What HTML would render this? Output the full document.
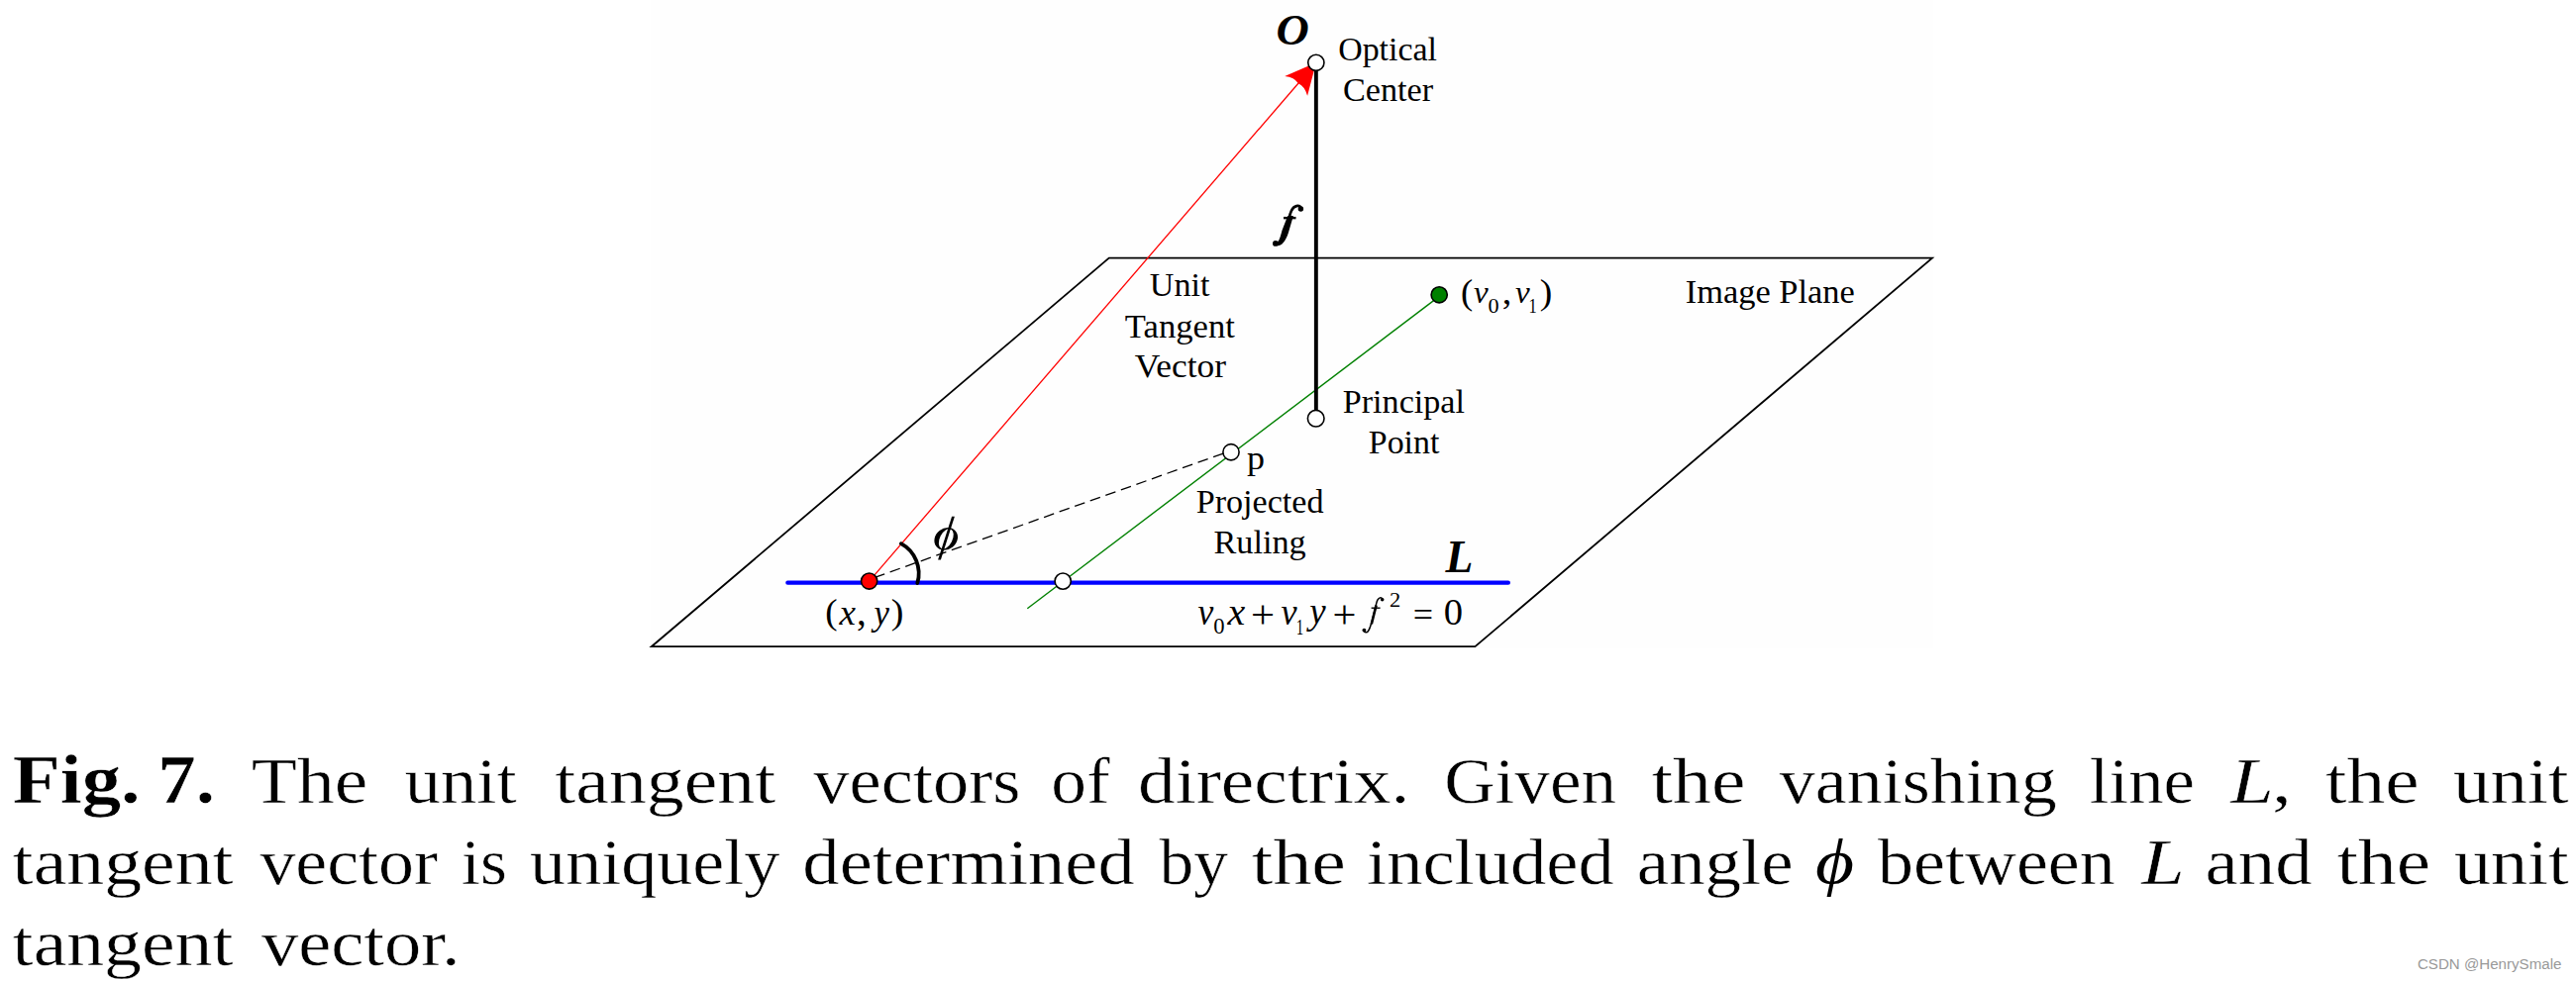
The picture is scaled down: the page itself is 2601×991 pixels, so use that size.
<!DOCTYPE html>
<html><head><meta charset="utf-8"><style>
html,body{margin:0;padding:0;background:#fff;}
body{width:2601px;height:991px;overflow:hidden;}
svg{display:block;}
text{white-space:pre;}
</style></head><body>
<svg width="2601" height="991" viewBox="0 0 2601 991">
<rect width="2601" height="991" fill="#fff"/>
<rect x="657" y="0" width="1295" height="655" fill="#fefefe"/>
<polygon points="1119.8,260.6 1951,260.6 1489.4,653.2 657.8,653.2" fill="none" stroke="#000" stroke-width="1.8" stroke-linejoin="miter"/>
<line x1="795.3" y1="588.7" x2="1522.9" y2="588.7" stroke="#0000ff" stroke-width="4.2" stroke-linecap="round"/>
<line x1="1037.3" y1="614.7" x2="1453.2" y2="299.4" stroke="#008000" stroke-width="1.4"/>
<line x1="883.11" y1="583.36" x2="1243.0" y2="455.3" stroke="#000" stroke-width="1.3" stroke-dasharray="10.7 5.8"/>
<line x1="877.65" y1="587.05" x2="1311.28" y2="83.76" stroke="#ff0000" stroke-width="1.3"/>
<line x1="1328.85" y1="63.3" x2="1328.85" y2="422.4" stroke="#000" stroke-width="3.9"/>
<path d="M926.28,589.08 A34.4,34.4 0 0 0 909.88,549.16" fill="none" stroke="#000" stroke-width="3.8" stroke-linecap="round"/>
<path d="M1328.90,63.30 L1297.23,76.93 Q1306.95,78.05 1310.95,84.13 Q1317.56,87.19 1320.11,96.64 Z" fill="#ff0000"/>
<circle cx="1328.85" cy="63.3" r="8.1" fill="#fff" stroke="#000" stroke-width="1.6"/>
<circle cx="1328.7" cy="422.7" r="8.3" fill="#fff" stroke="#000" stroke-width="1.6"/>
<circle cx="1243.0" cy="456.75" r="8.1" fill="#fff" stroke="#000" stroke-width="1.6"/>
<circle cx="1073.2" cy="587.1" r="8.1" fill="#fff" stroke="#000" stroke-width="1.6"/>
<circle cx="877.65" cy="587.05" r="8.1" fill="#ff0000" stroke="#000" stroke-width="1.6"/>
<circle cx="1453.2" cy="297.8" r="8.1" fill="#008000" stroke="#000" stroke-width="1.6"/>
<path d="M965.05,536.65 A12.5,10.6 -38 1 1 945.35,552.05 A12.5,10.6 -38 1 1 965.05,536.65 Z M960.16,534.87 A10.7,6.2 -63 1 1 950.44,553.93 A10.7,6.2 -63 1 1 960.16,534.87 Z" fill="#000" fill-rule="evenodd"/>
<path d="M961.1,521.8 L963.9,521.8 L949.9,565.6 L947.1,565.6 Z" fill="#000"/>
<path d="M1313.6,209.8 C1311.8,206.9 1306.6,207.2 1303.9,213.0 C1302.9,215.2 1302.3,217.2 1301.8,219.5" fill="none" stroke="#000" stroke-width="2.7"/>
<path d="M1300.2,218.0 L1305.9,218.0 L1301.6,232.8 C1300.6,236.5 1299.3,240 1297.2,243.2 C1295.2,246.3 1291.8,249.4 1288.0,247.6 L1289.5,244.5 C1291.6,243.8 1292.7,239.5 1294.5,232.8 Z" fill="#000"/>
<circle cx="1313.4" cy="210.9" r="2.75" fill="#000"/>
<circle cx="1287.9" cy="245.9" r="2.9" fill="#000"/>
<path d="M1296.0,220.15 L1308.5,220.15" stroke="#000" stroke-width="2.4"/>
<path d="M1396.0,605.2 C1394.6,602.9 1391.2,603.3 1389.9,608.8 L1385.6,626 C1384.2,631.5 1383,635.5 1381.5,637.5 C1380.3,639.2 1378.5,639.4 1377.0,637.6" fill="none" stroke="#000" stroke-width="1.5"/>
<path d="M1389.6,611.5 L1384.8,630.5" stroke="#000" stroke-width="2.6"/>
<circle cx="1395.7" cy="605.8" r="1.8" fill="#000"/>
<circle cx="1377.4" cy="636.6" r="1.9" fill="#000"/>
<path d="M1384.6,614.2 L1393.6,614.2" stroke="#000" stroke-width="1.4"/>

<text transform="translate(1351.14 61.20) scale(0.33932 0.34200)" font-family="'Liberation Serif'" font-weight="normal" font-style="normal" font-size="100" fill="#000">Optical</text>
<text transform="translate(1355.93 102.10) scale(0.34228 0.34200)" font-family="'Liberation Serif'" font-weight="normal" font-style="normal" font-size="100" fill="#000">Center</text>
<text transform="translate(1160.87 299.30) scale(0.34096 0.34200)" font-family="'Liberation Serif'" font-weight="normal" font-style="normal" font-size="100" fill="#000">Unit</text>
<text transform="translate(1135.86 340.60) scale(0.34624 0.34200)" font-family="'Liberation Serif'" font-weight="normal" font-style="normal" font-size="100" fill="#000">Tangent</text>
<text transform="translate(1145.70 381.30) scale(0.35355 0.34200)" font-family="'Liberation Serif'" font-weight="normal" font-style="normal" font-size="100" fill="#000">Vector</text>
<text transform="translate(1355.77 416.70) scale(0.34138 0.34200)" font-family="'Liberation Serif'" font-weight="normal" font-style="normal" font-size="100" fill="#000">Principal</text>
<text transform="translate(1381.77 458.00) scale(0.33959 0.34200)" font-family="'Liberation Serif'" font-weight="normal" font-style="normal" font-size="100" fill="#000">Point</text>
<text transform="translate(1259.04 474.00) scale(0.35972 0.34200)" font-family="'Liberation Serif'" font-weight="normal" font-style="normal" font-size="100" fill="#000">p</text>
<text transform="translate(1207.67 517.70) scale(0.34142 0.34200)" font-family="'Liberation Serif'" font-weight="normal" font-style="normal" font-size="100" fill="#000">Projected</text>
<text transform="translate(1225.46 559.00) scale(0.34257 0.34200)" font-family="'Liberation Serif'" font-weight="normal" font-style="normal" font-size="100" fill="#000">Ruling</text>
<text transform="translate(1701.72 306.10) scale(0.34432 0.34200)" font-family="'Liberation Serif'" font-weight="normal" font-style="normal" font-size="100" fill="#000">Image Plane</text>
<text transform="translate(1288.56 44.59) scale(0.46140 0.45382)" font-family="'Liberation Serif'" font-weight="bold" font-style="italic" font-size="100" fill="#000">O</text>
<text transform="translate(1459.61 578.20) scale(0.45642 0.46324)" font-family="'Liberation Serif'" font-weight="bold" font-style="italic" font-size="100" fill="#000">L</text>
<text transform="translate(1475.06 306.66) scale(0.36622 0.35363)" font-family="'Liberation Serif'" font-weight="normal" font-style="normal" font-size="100" fill="#000">(</text>
<text transform="translate(1488.00 306.11) scale(0.33103 0.31381)" font-family="'Liberation Serif'" font-weight="normal" font-style="italic" font-size="100" fill="#000">v</text>
<text transform="translate(1502.51 315.66) scale(0.22171 0.21818)" font-family="'Liberation Serif'" font-weight="normal" font-style="normal" font-size="100" fill="#000">0</text>
<text transform="translate(1516.80 307.37) scale(0.38400 0.35388)" font-family="'Liberation Serif'" font-weight="normal" font-style="normal" font-size="100" fill="#000">,</text>
<text transform="translate(1530.00 306.11) scale(0.33103 0.31381)" font-family="'Liberation Serif'" font-weight="normal" font-style="italic" font-size="100" fill="#000">v</text>
<text transform="translate(1543.51 316.00) scale(0.16533 0.20837)" font-family="'Liberation Serif'" font-weight="normal" font-style="normal" font-size="100" fill="#000">1</text>
<text transform="translate(1554.82 306.66) scale(0.37647 0.35363)" font-family="'Liberation Serif'" font-weight="normal" font-style="normal" font-size="100" fill="#000">)</text>
<text transform="translate(833.24 630.17) scale(0.36978 0.35797)" font-family="'Liberation Serif'" font-weight="normal" font-style="normal" font-size="100" fill="#000">(</text>
<text transform="translate(847.48 631.00) scale(0.37076 0.35840)" font-family="'Liberation Serif'" font-weight="normal" font-style="italic" font-size="100" fill="#000">x</text>
<text transform="translate(864.98 630.51) scale(0.39040 0.40282)" font-family="'Liberation Serif'" font-weight="normal" font-style="normal" font-size="100" fill="#000">,</text>
<text transform="translate(882.56 630.84) scale(0.34743 0.35491)" font-family="'Liberation Serif'" font-weight="normal" font-style="italic" font-size="100" fill="#000">y</text>
<text transform="translate(899.81 630.17) scale(0.38024 0.35797)" font-family="'Liberation Serif'" font-weight="normal" font-style="normal" font-size="100" fill="#000">)</text>
<text transform="translate(1209.60 630.52) scale(0.35531 0.37161)" font-family="'Liberation Serif'" font-weight="normal" font-style="italic" font-size="100" fill="#000">v</text>
<text transform="translate(1225.19 640.34) scale(0.22629 0.22982)" font-family="'Liberation Serif'" font-weight="normal" font-style="normal" font-size="100" fill="#000">0</text>
<text transform="translate(1239.42 631.00) scale(0.39945 0.38400)" font-family="'Liberation Serif'" font-weight="normal" font-style="italic" font-size="100" fill="#000">x</text>
<text transform="translate(1263.00 634.20) scale(0.42667 0.39432)" font-family="'Liberation Serif'" font-weight="normal" font-style="normal" font-size="100" fill="#000">+</text>
<text transform="translate(1293.40 630.52) scale(0.36193 0.37161)" font-family="'Liberation Serif'" font-weight="normal" font-style="italic" font-size="100" fill="#000">v</text>
<text transform="translate(1308.63 640.70) scale(0.14933 0.23516)" font-family="'Liberation Serif'" font-weight="normal" font-style="normal" font-size="100" fill="#000">1</text>
<text transform="translate(1322.26 630.32) scale(0.36937 0.36945)" font-family="'Liberation Serif'" font-weight="normal" font-style="italic" font-size="100" fill="#000">y</text>
<text transform="translate(1345.51 634.20) scale(0.42453 0.39432)" font-family="'Liberation Serif'" font-weight="normal" font-style="normal" font-size="100" fill="#000">+</text>
<text transform="translate(1403.10 613.00) scale(0.22519 0.21730)" font-family="'Liberation Serif'" font-weight="normal" font-style="normal" font-size="100" fill="#000">2</text>
<text transform="translate(1426.81 632.84) scale(0.36053 0.36141)" font-family="'Liberation Serif'" font-weight="normal" font-style="normal" font-size="100" fill="#000">=</text>
<text transform="translate(1457.69 630.50) scale(0.38629 0.38545)" font-family="'Liberation Serif'" font-weight="normal" font-style="normal" font-size="100" fill="#000">0</text>
<text transform="translate(12.67 810.90) scale(0.78779 0.69500)" font-family="'Liberation Serif'" font-weight="bold" font-style="normal" font-size="100" fill="#000" stroke="#fff" stroke-width="0.674">Fig.</text>
<text transform="translate(159.19 810.90) scale(0.76949 0.69500)" font-family="'Liberation Serif'" font-weight="bold" font-style="normal" font-size="100" fill="#000" stroke="#fff" stroke-width="0.683">7.</text>
<text transform="translate(253.72 810.90) scale(0.75671 0.66000)" font-family="'Liberation Serif'" font-weight="normal" font-style="normal" font-size="100" fill="#000" stroke="#fff" stroke-width="0.706">The</text>
<text transform="translate(408.80 810.90) scale(0.72479 0.66000)" font-family="'Liberation Serif'" font-weight="normal" font-style="normal" font-size="100" fill="#000" stroke="#fff" stroke-width="0.722">unit</text>
<text transform="translate(560.20 810.90) scale(0.75778 0.66000)" font-family="'Liberation Serif'" font-weight="normal" font-style="normal" font-size="100" fill="#000" stroke="#fff" stroke-width="0.705">tangent</text>
<text transform="translate(821.30 810.90) scale(0.72431 0.66000)" font-family="'Liberation Serif'" font-weight="normal" font-style="normal" font-size="100" fill="#000" stroke="#fff" stroke-width="0.722">vectors</text>
<text transform="translate(1061.37 810.90) scale(0.71385 0.66000)" font-family="'Liberation Serif'" font-weight="normal" font-style="normal" font-size="100" fill="#000" stroke="#fff" stroke-width="0.728">of</text>
<text transform="translate(1149.04 810.90) scale(0.75463 0.66000)" font-family="'Liberation Serif'" font-weight="normal" font-style="normal" font-size="100" fill="#000" stroke="#fff" stroke-width="0.707">directrix.</text>
<text transform="translate(1458.28 810.90) scale(0.71085 0.66000)" font-family="'Liberation Serif'" font-weight="normal" font-style="normal" font-size="100" fill="#000" stroke="#fff" stroke-width="0.729">Given</text>
<text transform="translate(1667.40 810.90) scale(0.77769 0.66000)" font-family="'Liberation Serif'" font-weight="normal" font-style="normal" font-size="100" fill="#000" stroke="#fff" stroke-width="0.696">the</text>
<text transform="translate(1796.80 810.90) scale(0.71985 0.66000)" font-family="'Liberation Serif'" font-weight="normal" font-style="normal" font-size="100" fill="#000" stroke="#fff" stroke-width="0.725">vanishing</text>
<text transform="translate(2109.79 810.90) scale(0.70798 0.66000)" font-family="'Liberation Serif'" font-weight="normal" font-style="normal" font-size="100" fill="#000" stroke="#fff" stroke-width="0.731">line</text>
<text transform="translate(2252.22 810.90) scale(0.78306 0.66000)" font-family="'Liberation Serif'" font-weight="normal" font-style="italic" font-size="100" fill="#000" stroke="#fff" stroke-width="0.693">L</text>
<text transform="translate(2294.00 810.90) scale(0.80000 0.66000)" font-family="'Liberation Serif'" font-weight="normal" font-style="normal" font-size="100" fill="#000" stroke="#fff" stroke-width="0.685">,</text>
<text transform="translate(2347.90 810.90) scale(0.77436 0.66000)" font-family="'Liberation Serif'" font-weight="normal" font-style="normal" font-size="100" fill="#000" stroke="#fff" stroke-width="0.697">the</text>
<text transform="translate(2477.00 810.90) scale(0.74980 0.66000)" font-family="'Liberation Serif'" font-weight="normal" font-style="normal" font-size="100" fill="#000" stroke="#fff" stroke-width="0.709">unit</text>
<text transform="translate(12.60 892.50) scale(0.75778 0.66000)" font-family="'Liberation Serif'" font-weight="normal" font-style="normal" font-size="100" fill="#000" stroke="#fff" stroke-width="0.705">tangent</text>
<text transform="translate(262.40 892.50) scale(0.71862 0.66000)" font-family="'Liberation Serif'" font-weight="normal" font-style="normal" font-size="100" fill="#000" stroke="#fff" stroke-width="0.725">vector</text>
<text transform="translate(465.72 892.50) scale(0.69017 0.66000)" font-family="'Liberation Serif'" font-weight="normal" font-style="normal" font-size="100" fill="#000" stroke="#fff" stroke-width="0.741">is</text>
<text transform="translate(535.10 892.50) scale(0.72124 0.66000)" font-family="'Liberation Serif'" font-weight="normal" font-style="normal" font-size="100" fill="#000" stroke="#fff" stroke-width="0.724">uniquely</text>
<text transform="translate(810.37 892.50) scale(0.74572 0.66000)" font-family="'Liberation Serif'" font-weight="normal" font-style="normal" font-size="100" fill="#000" stroke="#fff" stroke-width="0.711">determined</text>
<text transform="translate(1170.50 892.50) scale(0.69400 0.66000)" font-family="'Liberation Serif'" font-weight="normal" font-style="normal" font-size="100" fill="#000" stroke="#fff" stroke-width="0.739">by</text>
<text transform="translate(1263.80 892.50) scale(0.77852 0.66000)" font-family="'Liberation Serif'" font-weight="normal" font-style="normal" font-size="100" fill="#000" stroke="#fff" stroke-width="0.695">the</text>
<text transform="translate(1380.07 892.50) scale(0.72497 0.66000)" font-family="'Liberation Serif'" font-weight="normal" font-style="normal" font-size="100" fill="#000" stroke="#fff" stroke-width="0.722">included</text>
<text transform="translate(1652.82 892.50) scale(0.72906 0.66000)" font-family="'Liberation Serif'" font-weight="normal" font-style="normal" font-size="100" fill="#000" stroke="#fff" stroke-width="0.720">angle</text>
<text transform="translate(1896.10 892.50) scale(0.71949 0.66000)" font-family="'Liberation Serif'" font-weight="normal" font-style="normal" font-size="100" fill="#000" stroke="#fff" stroke-width="0.725">between</text>
<text transform="translate(2162.32 892.50) scale(0.78306 0.66000)" font-family="'Liberation Serif'" font-weight="normal" font-style="italic" font-size="100" fill="#000" stroke="#fff" stroke-width="0.693">L</text>
<text transform="translate(2226.46 892.50) scale(0.74968 0.66000)" font-family="'Liberation Serif'" font-weight="normal" font-style="normal" font-size="100" fill="#000" stroke="#fff" stroke-width="0.709">and</text>
<text transform="translate(2359.60 892.50) scale(0.77186 0.66000)" font-family="'Liberation Serif'" font-weight="normal" font-style="normal" font-size="100" fill="#000" stroke="#fff" stroke-width="0.698">the</text>
<text transform="translate(2477.90 892.50) scale(0.74339 0.66000)" font-family="'Liberation Serif'" font-weight="normal" font-style="normal" font-size="100" fill="#000" stroke="#fff" stroke-width="0.713">unit</text>
<text transform="translate(1833.12 891.55) scale(0.75561 0.64217)" font-family="'Liberation Serif'" font-weight="normal" font-style="italic" font-size="100" fill="#000">ϕ</text>
<text transform="translate(12.60 975.00) scale(0.75744 0.66000)" font-family="'Liberation Serif'" font-weight="normal" font-style="normal" font-size="100" fill="#000" stroke="#fff" stroke-width="0.705">tangent</text>
<text transform="translate(264.00 975.00) scale(0.74500 0.66000)" font-family="'Liberation Serif'" font-weight="normal" font-style="normal" font-size="100" fill="#000" stroke="#fff" stroke-width="0.712">vector.</text>
<text transform="translate(2440.89 978.90) scale(0.15135 0.15500)" font-family="'Liberation Sans'" font-weight="normal" font-style="normal" font-size="100" fill="#999999">CSDN @HenrySmale</text>
</svg>
</body></html>
